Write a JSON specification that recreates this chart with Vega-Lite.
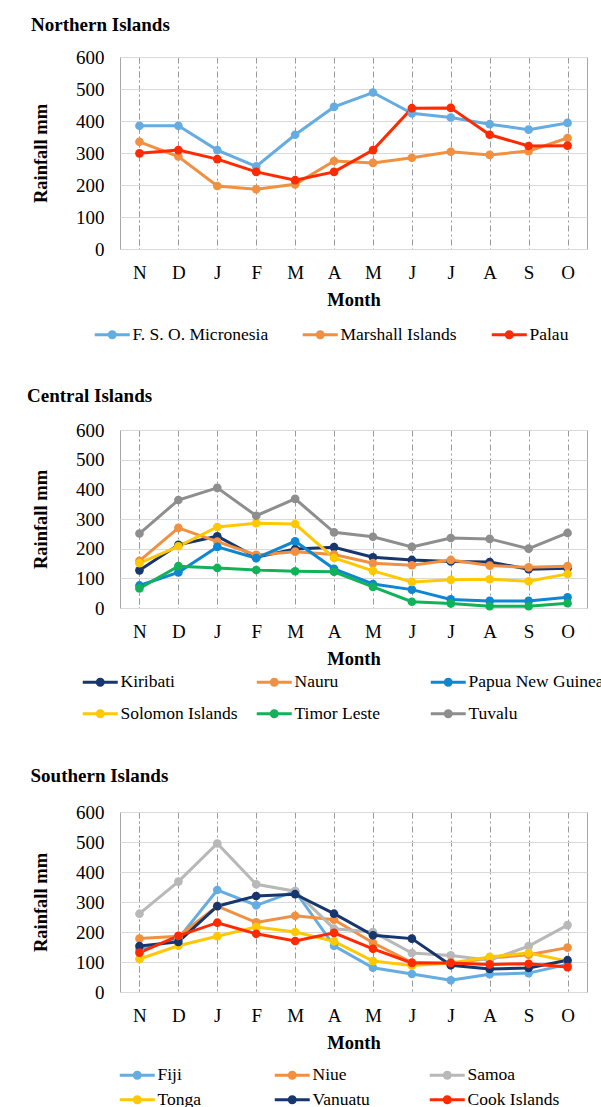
{
  "$schema": "https://vega.github.io/schema/vega-lite/v6.json",
  "padding": {"left": 26, "top": 15, "right": 0, "bottom": 0},
  "background": "white",
  "datasets": {
    "north": [
      {"c":"F. S. O. Micronesia","m":"Nov","v":385},{"c":"F. S. O. Micronesia","m":"Dec","v":385},{"c":"F. S. O. Micronesia","m":"Jan","v":309},{"c":"F. S. O. Micronesia","m":"Feb","v":258},{"c":"F. S. O. Micronesia","m":"Mar","v":357},{"c":"F. S. O. Micronesia","m":"Apr","v":444},{"c":"F. S. O. Micronesia","m":"May","v":489},{"c":"F. S. O. Micronesia","m":"Jun","v":424},{"c":"F. S. O. Micronesia","m":"Jul","v":411},{"c":"F. S. O. Micronesia","m":"Aug","v":390},{"c":"F. S. O. Micronesia","m":"Sep","v":373},{"c":"F. S. O. Micronesia","m":"Oct","v":394},
      {"c":"Marshall Islands","m":"Nov","v":335},{"c":"Marshall Islands","m":"Dec","v":289},{"c":"Marshall Islands","m":"Jan","v":197},{"c":"Marshall Islands","m":"Feb","v":187},{"c":"Marshall Islands","m":"Mar","v":202},{"c":"Marshall Islands","m":"Apr","v":275},{"c":"Marshall Islands","m":"May","v":269},{"c":"Marshall Islands","m":"Jun","v":285},{"c":"Marshall Islands","m":"Jul","v":304},{"c":"Marshall Islands","m":"Aug","v":294},{"c":"Marshall Islands","m":"Sep","v":306},{"c":"Marshall Islands","m":"Oct","v":347},
      {"c":"Palau","m":"Nov","v":299},{"c":"Palau","m":"Dec","v":309},{"c":"Palau","m":"Jan","v":281},{"c":"Palau","m":"Feb","v":241},{"c":"Palau","m":"Mar","v":215},{"c":"Palau","m":"Apr","v":241},{"c":"Palau","m":"May","v":309},{"c":"Palau","m":"Jun","v":440},{"c":"Palau","m":"Jul","v":441},{"c":"Palau","m":"Aug","v":357},{"c":"Palau","m":"Sep","v":322},{"c":"Palau","m":"Oct","v":323}
    ],
    "central": [
      {"c":"Kiribati","m":"Nov","v":127},{"c":"Kiribati","m":"Dec","v":213},{"c":"Kiribati","m":"Jan","v":242},{"c":"Kiribati","m":"Feb","v":171},{"c":"Kiribati","m":"Mar","v":199},{"c":"Kiribati","m":"Apr","v":205},{"c":"Kiribati","m":"May","v":171},{"c":"Kiribati","m":"Jun","v":162},{"c":"Kiribati","m":"Jul","v":157},{"c":"Kiribati","m":"Aug","v":155},{"c":"Kiribati","m":"Sep","v":131},{"c":"Kiribati","m":"Oct","v":134},
      {"c":"Nauru","m":"Nov","v":159},{"c":"Nauru","m":"Dec","v":270},{"c":"Nauru","m":"Jan","v":224},{"c":"Nauru","m":"Feb","v":179},{"c":"Nauru","m":"Mar","v":190},{"c":"Nauru","m":"Apr","v":180},{"c":"Nauru","m":"May","v":151},{"c":"Nauru","m":"Jun","v":144},{"c":"Nauru","m":"Jul","v":162},{"c":"Nauru","m":"Aug","v":143},{"c":"Nauru","m":"Sep","v":137},{"c":"Nauru","m":"Oct","v":141},
      {"c":"Papua New Guinea","m":"Nov","v":76},{"c":"Papua New Guinea","m":"Dec","v":120},{"c":"Papua New Guinea","m":"Jan","v":206},{"c":"Papua New Guinea","m":"Feb","v":168},{"c":"Papua New Guinea","m":"Mar","v":225},{"c":"Papua New Guinea","m":"Apr","v":132},{"c":"Papua New Guinea","m":"May","v":81},{"c":"Papua New Guinea","m":"Jun","v":62},{"c":"Papua New Guinea","m":"Jul","v":29},{"c":"Papua New Guinea","m":"Aug","v":24},{"c":"Papua New Guinea","m":"Sep","v":24},{"c":"Papua New Guinea","m":"Oct","v":36},
      {"c":"Solomon Islands","m":"Nov","v":151},{"c":"Solomon Islands","m":"Dec","v":208},{"c":"Solomon Islands","m":"Jan","v":273},{"c":"Solomon Islands","m":"Feb","v":286},{"c":"Solomon Islands","m":"Mar","v":283},{"c":"Solomon Islands","m":"Apr","v":169},{"c":"Solomon Islands","m":"May","v":125},{"c":"Solomon Islands","m":"Jun","v":88},{"c":"Solomon Islands","m":"Jul","v":95},{"c":"Solomon Islands","m":"Aug","v":97},{"c":"Solomon Islands","m":"Sep","v":90},{"c":"Solomon Islands","m":"Oct","v":115},
      {"c":"Timor Leste","m":"Nov","v":66},{"c":"Timor Leste","m":"Dec","v":141},{"c":"Timor Leste","m":"Jan","v":135},{"c":"Timor Leste","m":"Feb","v":128},{"c":"Timor Leste","m":"Mar","v":124},{"c":"Timor Leste","m":"Apr","v":122},{"c":"Timor Leste","m":"May","v":71},{"c":"Timor Leste","m":"Jun","v":21},{"c":"Timor Leste","m":"Jul","v":15},{"c":"Timor Leste","m":"Aug","v":6},{"c":"Timor Leste","m":"Sep","v":6},{"c":"Timor Leste","m":"Oct","v":16},
      {"c":"Tuvalu","m":"Nov","v":251},{"c":"Tuvalu","m":"Dec","v":364},{"c":"Tuvalu","m":"Jan","v":405},{"c":"Tuvalu","m":"Feb","v":311},{"c":"Tuvalu","m":"Mar","v":368},{"c":"Tuvalu","m":"Apr","v":255},{"c":"Tuvalu","m":"May","v":240},{"c":"Tuvalu","m":"Jun","v":206},{"c":"Tuvalu","m":"Jul","v":236},{"c":"Tuvalu","m":"Aug","v":233},{"c":"Tuvalu","m":"Sep","v":200},{"c":"Tuvalu","m":"Oct","v":253}
    ],
    "south": [
      {"c":"Fiji","m":"Nov","v":141},{"c":"Fiji","m":"Dec","v":178},{"c":"Fiji","m":"Jan","v":340},{"c":"Fiji","m":"Feb","v":289},{"c":"Fiji","m":"Mar","v":336},{"c":"Fiji","m":"Apr","v":154},{"c":"Fiji","m":"May","v":81},{"c":"Fiji","m":"Jun","v":60},{"c":"Fiji","m":"Jul","v":39},{"c":"Fiji","m":"Aug","v":59},{"c":"Fiji","m":"Sep","v":63},{"c":"Fiji","m":"Oct","v":92},
      {"c":"Niue","m":"Nov","v":178},{"c":"Niue","m":"Dec","v":186},{"c":"Niue","m":"Jan","v":286},{"c":"Niue","m":"Feb","v":232},{"c":"Niue","m":"Mar","v":254},{"c":"Niue","m":"Apr","v":241},{"c":"Niue","m":"May","v":164},{"c":"Niue","m":"Jun","v":98},{"c":"Niue","m":"Jul","v":94},{"c":"Niue","m":"Aug","v":113},{"c":"Niue","m":"Sep","v":124},{"c":"Niue","m":"Oct","v":148},
      {"c":"Samoa","m":"Nov","v":261},{"c":"Samoa","m":"Dec","v":368},{"c":"Samoa","m":"Jan","v":495},{"c":"Samoa","m":"Feb","v":359},{"c":"Samoa","m":"Mar","v":336},{"c":"Samoa","m":"Apr","v":211},{"c":"Samoa","m":"May","v":200},{"c":"Samoa","m":"Jun","v":130},{"c":"Samoa","m":"Jul","v":122},{"c":"Samoa","m":"Aug","v":106},{"c":"Samoa","m":"Sep","v":153},{"c":"Samoa","m":"Oct","v":223},
      {"c":"Tonga","m":"Nov","v":110},{"c":"Tonga","m":"Dec","v":154},{"c":"Tonga","m":"Jan","v":186},{"c":"Tonga","m":"Feb","v":217},{"c":"Tonga","m":"Mar","v":200},{"c":"Tonga","m":"Apr","v":169},{"c":"Tonga","m":"May","v":103},{"c":"Tonga","m":"Jun","v":88},{"c":"Tonga","m":"Jul","v":97},{"c":"Tonga","m":"Aug","v":117},{"c":"Tonga","m":"Sep","v":130},{"c":"Tonga","m":"Oct","v":103},
      {"c":"Vanuatu","m":"Nov","v":153},{"c":"Vanuatu","m":"Dec","v":167},{"c":"Vanuatu","m":"Jan","v":286},{"c":"Vanuatu","m":"Feb","v":320},{"c":"Vanuatu","m":"Mar","v":326},{"c":"Vanuatu","m":"Apr","v":261},{"c":"Vanuatu","m":"May","v":189},{"c":"Vanuatu","m":"Jun","v":178},{"c":"Vanuatu","m":"Jul","v":89},{"c":"Vanuatu","m":"Aug","v":77},{"c":"Vanuatu","m":"Sep","v":80},{"c":"Vanuatu","m":"Oct","v":106},
      {"c":"Cook Islands","m":"Nov","v":131},{"c":"Cook Islands","m":"Dec","v":187},{"c":"Cook Islands","m":"Jan","v":231},{"c":"Cook Islands","m":"Feb","v":194},{"c":"Cook Islands","m":"Mar","v":170},{"c":"Cook Islands","m":"Apr","v":197},{"c":"Cook Islands","m":"May","v":144},{"c":"Cook Islands","m":"Jun","v":97},{"c":"Cook Islands","m":"Jul","v":97},{"c":"Cook Islands","m":"Aug","v":92},{"c":"Cook Islands","m":"Sep","v":94},{"c":"Cook Islands","m":"Oct","v":83}
    ]
  },
  "config": {
    "font": "Liberation Serif",
    "view": {"stroke": "#a6a6a6", "strokeWidth": 1},
    "concat": {"spacing": 42},
    "axis": {
      "labelFont": "Liberation Serif", "titleFont": "Liberation Serif",
      "labelColor": "#000000", "titleColor": "#000000",
      "labelFontSize": 19, "titleFontSize": 18.5, "titleFontWeight": "bold",
      "ticks": false, "domain": false
    },
    "axisX": {"grid": true, "gridDash": [6, 3, 2, 3], "gridColor": "#9a9a9a", "tickBand": "extent", "labelAngle": 0, "labelPadding": 14, "titlePadding": 8},
    "axisY": {"grid": true, "gridColor": "#d9d9d9", "labelPadding": 16, "titlePadding": 25},
    "legend": {
      "orient": "none", "direction": "horizontal",
      "labelFont": "Liberation Serif", "labelFontSize": 17.5, "labelColor": "#000000",
      "symbolType": "M-3.5,-0.3H3.5V0.3H-3.5Z M-0.9,0A0.9,0.9 0 1,1 0.9,0A0.9,0.9 0 1,1 -0.9,0Z",
      "symbolSize": 100, "symbolStrokeWidth": 0, "labelOffset": 11.5
    },
    "title": {"font": "Liberation Serif", "fontSize": 19, "fontWeight": "bold", "anchor": "start", "color": "#000000", "frame": "group"}
  },
  "resolve": {"scale": {"x": "independent", "y": "independent", "color": "independent"}, "legend": {"color": "independent"}},
  "vconcat": [
    {
      "title": {"text": "Northern Islands", "dx": -89, "offset": 13},
      "width": 467, "height": 192,
      "data": {"name": "north"},
      "encoding": {
        "x": {"field": "m", "type": "ordinal", "sort": ["Nov","Dec","Jan","Feb","Mar","Apr","May","Jun","Jul","Aug","Sep","Oct"], "scale": {"paddingInner": 0, "paddingOuter": 0}, "axis": {"title": "Month", "labelExpr": "substring(datum.label, 0, 1)"}},
        "y": {"field": "v", "type": "quantitative", "scale": {"domain": [0, 600]}, "axis": {"title": "Rainfall mm", "values": [0,100,200,300,400,500,600]}},
        "color": {"field": "c", "type": "nominal", "scale": {"domain": ["F. S. O. Micronesia","Marshall Islands","Palau"], "range": ["#65ACE0","#F09040","#FF2A00"]}, "legend": {"title": null, "legendX": -16.5, "legendY": 268.5, "columnPadding": 34}}
      },
      "layer": [
        {"mark": {"type": "line", "strokeWidth": 3}},
        {"mark": {"type": "point", "filled": true, "size": 75, "opacity": 1}}
      ]
    },
    {
      "title": {"text": "Central Islands", "dx": -93, "offset": 15},
      "width": 467, "height": 178,
      "data": {"name": "central"},
      "encoding": {
        "x": {"field": "m", "type": "ordinal", "sort": ["Nov","Dec","Jan","Feb","Mar","Apr","May","Jun","Jul","Aug","Sep","Oct"], "scale": {"paddingInner": 0, "paddingOuter": 0}, "axis": {"title": "Month", "labelExpr": "substring(datum.label, 0, 1)"}},
        "y": {"field": "v", "type": "quantitative", "scale": {"domain": [0, 600]}, "axis": {"title": "Rainfall mm", "values": [0,100,200,300,400,500,600]}},
        "color": {"field": "c", "type": "nominal", "scale": {"domain": ["Kiribati","Nauru","Papua New Guinea","Solomon Islands","Timor Leste","Tuvalu"], "range": ["#17366E","#F09040","#0E87D2","#FFC800","#12B25A","#8E8E8E"]}, "legend": {"title": null, "legendX": -28.5, "legendY": 243, "columns": 3, "gridAlign": "all", "columnPadding": 0, "rowPadding": 13}}
      },
      "layer": [
        {"mark": {"type": "line", "strokeWidth": 3}},
        {"mark": {"type": "point", "filled": true, "size": 75, "opacity": 1}}
      ]
    },
    {
      "title": {"text": "Southern Islands", "dx": -89.5, "offset": 17},
      "width": 467, "height": 180,
      "data": {"name": "south"},
      "encoding": {
        "x": {"field": "m", "type": "ordinal", "sort": ["Nov","Dec","Jan","Feb","Mar","Apr","May","Jun","Jul","Aug","Sep","Oct"], "scale": {"paddingInner": 0, "paddingOuter": 0}, "axis": {"title": "Month", "labelExpr": "substring(datum.label, 0, 1)"}},
        "y": {"field": "v", "type": "quantitative", "scale": {"domain": [0, 600]}, "axis": {"title": "Rainfall mm", "values": [0,100,200,300,400,500,600]}},
        "color": {"field": "c", "type": "nominal", "scale": {"domain": ["Fiji","Niue","Samoa","Tonga","Vanuatu","Cook Islands"], "range": ["#65ACE0","#F09040","#B8B8B8","#FFC800","#17366E","#FF2A00"]}, "legend": {"title": null, "legendX": 8.5, "legendY": 254, "columns": 3, "gridAlign": "all", "columnPadding": 25, "rowPadding": 6}}
      },
      "layer": [
        {"mark": {"type": "line", "strokeWidth": 3}},
        {"mark": {"type": "point", "filled": true, "size": 75, "opacity": 1}}
      ]
    }
  ]
}
